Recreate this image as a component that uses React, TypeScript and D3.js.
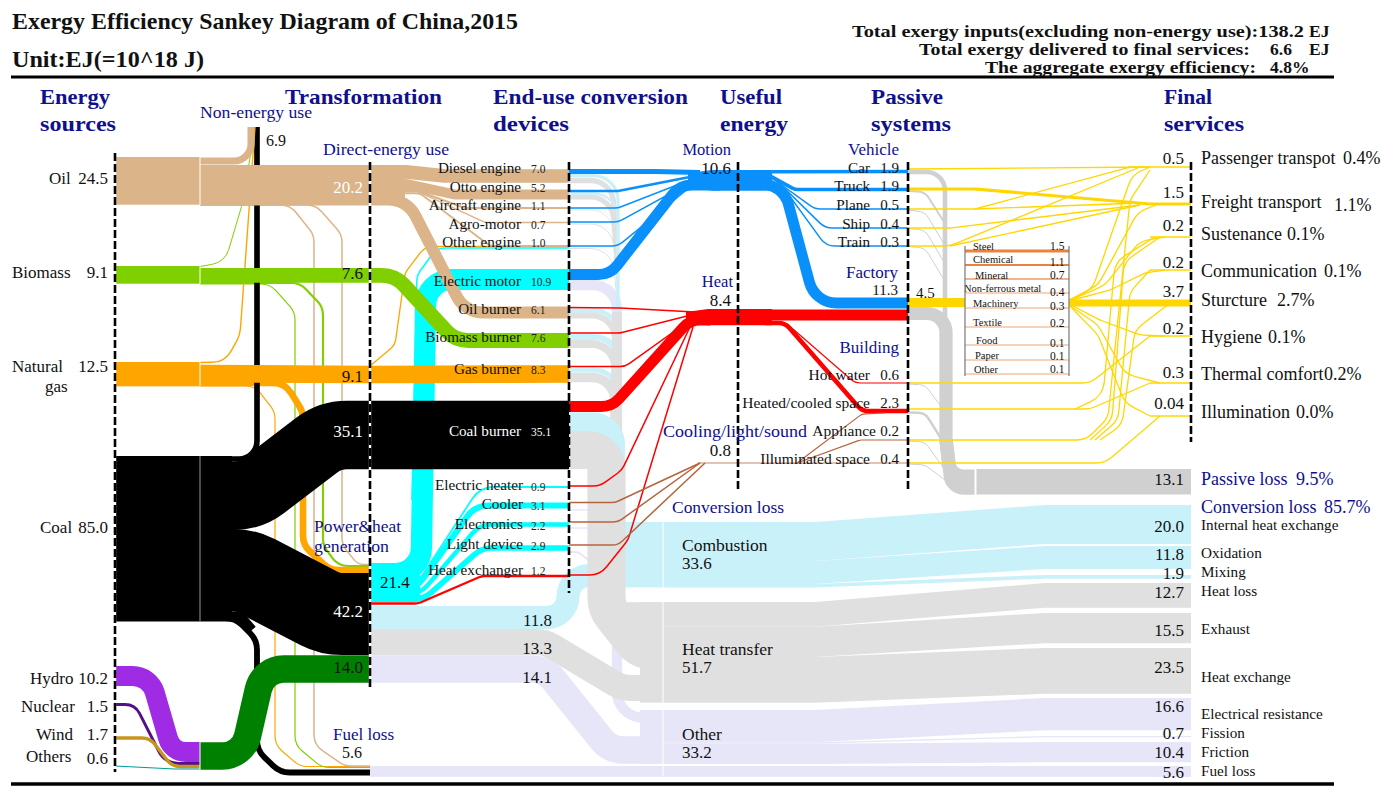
import React from 'react';
import * as d3 from 'd3';

type Pt = [number, number];

// ---- values read from the picture (EJ) ----
const sources = ['Oil', 'Biomass', 'Natural', 'Coal', 'Hydro', 'Nuclear', 'Wind', 'Others'];
const sourceValues = [24.5, 9.1, 12.5, 85.0, 10.2, 1.5, 1.7, 0.6];
const directValues = [20.2, 7.6, 9.1, 35.1];
const powerValues = [42.2, 14.0];
const powerOut = [21.4, 11.8, 13.3, 14.1];
const nonEnergy = [3.6, 0.2, 0.2, 2.9];
const fuelLoss = [0.5, 0.4, 0.4, 3.0];
const fuelCollar = 5;
const toPower = [0.6, 1.1, 3.4];

const devices = ['Diesel engine', 'Otto engine', 'Aircraft engine', 'Agro-motor', 'Other engine', 'Electric motor', 'Oil burner', 'Biomass burner', 'Gas burner', 'Coal burner', 'Electric heater', 'Cooler', 'Electronics', 'Light device', 'Heat exchanger'];
const deviceValues = [7.0, 5.2, 1.1, 0.7, 1.0, 10.9, 6.1, 7.6, 8.3, 35.1, 0.9, 3.1, 2.2, 2.9, 1.2];

const motionIn = [2.6, 1.3, 0.4, 0.3, 0.4, 5.6];
const heatIn = [0.6, 0.6, 0.7, 5.6, 0.4, 0.5];
const coolIn = [0.3, 0.2, 0.3];
const combustionIn = [1.7, 1.3, 0.3, 0.2, 0.2, 2.4, 3.0, 2.6, 9.9];
const transferIn = [2.7, 2.6, 0.4, 0.2, 0.4, 3.1, 4.0, 5.0, 19.6];
const transferEngines = 13;
const transferChannel = 5;
const otherIn = [5.3, 0.7, 0.7, 1.0];

const useful = [10.6, 8.4, 0.8];
const vehicles = ['Car', 'Truck', 'Plane', 'Ship', 'Train'];
const vehicleValues = [1.9, 1.9, 0.5, 0.4, 0.3];
const factoryValue = 11.3;
const factoryParts = [5.7, 5.6];
const buildings = ['Hot water', 'Heated/cooled space', 'Appliance', 'Illuminated space'];
const buildingValues = [0.6, 2.3, 0.2, 0.4];

const industries = ['Steel', 'Chemical', 'Mineral', 'Non-ferrous metal', 'Machinery', 'Textile', 'Food', 'Paper', 'Other'];
const industryValues = [1.5, 1.1, 0.7, 0.4, 0.3, 0.2, 0.1, 0.1, 0.1];
const factoryYellow = 4.5;

const services = ['Passenger transpot', 'Freight transport', 'Sustenance', 'Communication', 'Sturcture', 'Hygiene', 'Thermal comfort', 'Illumination'];
const serviceValues = [0.5, 1.5, 0.2, 0.2, 3.7, 0.2, 0.3, 0.04];
const servicePct = ['0.4%', '1.1%', '0.1%', '0.1%', '2.7%', '0.1%', '0.2%', '0.0%'];
const truckFreight = 1.6;
const thinFlow = 0.2;
const passiveLoss = 13.1;
const passiveIn = [0.3, 0.2, 0.3, 1.0, 2.4, 6.8, 7.0, 0.4, 1.3, 0.2, 0.2];

const lossGroups = ['Combustion', 'Heat transfer', 'Other'];
const lossGroupValues = [33.6, 51.7, 33.2];
const lossNames = [
  ['Internal heat exchange', 'Oxidation', 'Mixing'],
  ['Heat loss', 'Exhaust', 'Heat exchange'],
  ['Electrical resistance', 'Fission', 'Friction'],
];
const lossValues = [[20.0, 11.8, 1.9], [12.7, 15.5, 23.5], [16.6, 0.7, 10.4]];
const fuelLossTotal = 5.6;

// ---- scales and layout ----
const thick = d3.scaleLinear().domain([0, 85]).range([0, 165.5]);
const xCol = d3.scaleOrdinal<string, number>()
  .domain(['source', 'split', 'transform', 'device', 'useful', 'passive', 'final'])
  .range([115, 200, 370, 569, 738, 908, 1191]);
const xS = xCol('source'), xM = xCol('split'), xT = xCol('transform'), xD = xCol('device');
const xU = xCol('useful'), xP = xCol('passive'), xF = xCol('final');
const xLoss = 663;
const xTable = [965, 1069];

const sourceTop = [157, 266, 362, 456, 666, 703, 736, 765];
const lossTop = [[505, 546, 575], [583, 613, 648], [698, 736, 742]];
const lossBlockTop = [522, 602, 710];
const serviceY = [167, 204, 237, 270, 303, 336, 383, 416];
const tableLineY = [251, 265, 279, 293, 308, 327, 345, 360, 374];

const C = {
  tan: '#DCB48A', green: '#80CF00', orange: '#FFA500', black: '#000000', purple: '#A02BE4',
  indigo: '#52108A', gold: '#C8961E', teal: '#009B9B', dgreen: '#008000', cyan: '#00FFFF',
  blue: '#0A90FB', red: '#FF0000', brown: '#B5643C', yellow: '#FFD700', lcyan: '#C9F1FA',
  grey: '#E0E0E0', lav: '#E6E6F8', pgrey: '#D0D0D0', navy: '#10108C', table: '#E8833F',
};

// polyline with rounded corners, through d3.path
function rounded(pts: Pt[], r: number) {
  const p = d3.path();
  p.moveTo(pts[0][0], pts[0][1]);
  for (let i = 1; i < pts.length - 1; i++) {
    const [a, b, c] = [pts[i - 1], pts[i], pts[i + 1]];
    const u = [a[0] - b[0], a[1] - b[1]], v = [c[0] - b[0], c[1] - b[1]];
    const lu = Math.hypot(u[0], u[1]), lv = Math.hypot(v[0], v[1]);
    const ang = Math.acos(Math.max(-1, Math.min(1, (u[0] * v[0] + u[1] * v[1]) / (lu * lv))));
    const tanHalf = Math.tan(ang / 2);
    const re = Math.min(r, (Math.min(lu, lv) / 2) * tanHalf);
    if (re < 0.01 || ang > 3.13) p.lineTo(b[0], b[1]);
    else p.arcTo(b[0], b[1], c[0], c[1], re);
  }
  const e = pts[pts.length - 1];
  p.lineTo(e[0], e[1]);
  return p.toString();
}

interface Band { c: string; v: number; pts: Pt[]; r?: number; min?: number }

const b = (c: string, v: number, pts: Pt[], r = 20, min = 0): Band => ({c, v, pts, r, min});

// bands behind everything: losses from the devices
const lossBands: Band[] = [
  b(C.lav, otherIn[0], [[xD, 285], [617, 285], [617, 715], [xLoss, 720]], 30),
  b(C.lav, otherIn[1], [[xD, 510], [595, 510]]),
  b(C.lav, otherIn[2], [[xD, 528], [595, 528]]),
  b(C.lav, otherIn[3], [[xD, 552], [578, 552], [596, 566]], 10),
  // engines: grey peels off under the light strip
  b(C.grey, transferIn[0], [[xD, 180.5], [612, 180.5], [617, 250]], 40),
  b(C.grey, transferIn[1], [[xD, 197], [612, 197], [617, 262]], 40),
  b(C.grey, transferIn[2], [[xD, 210], [612, 210], [617, 272]], 40),
  b(C.grey, transferIn[3], [[xD, 224], [612, 224], [617, 284]], 40, 1),
  b(C.grey, transferIn[4], [[xD, 248.5], [612, 248.5], [617, 300]], 40, 1),
  b(C.lcyan, combustionIn[0], [[xD, 175.7], [618, 175.7], [618, 530]], 36),
  b(C.lcyan, combustionIn[1], [[xD, 193.5], [618, 193.5], [618, 530]], 36),
  b(C.lcyan, combustionIn[2], [[xD, 209], [618, 209], [618, 530]], 36),
  b(C.lcyan, combustionIn[3], [[xD, 223], [618, 223], [618, 530]], 36),
  b(C.lcyan, combustionIn[4], [[xD, 247.4], [618, 247.4], [618, 530]], 36),
  // burners
  b(C.lcyan, combustionIn[5], [[xD, 310.5], [619, 310.5], [619, 400]], 36),
  b(C.lcyan, combustionIn[6], [[xD, 337], [619, 337], [619, 420]], 36),
  b(C.lcyan, combustionIn[7], [[xD, 370], [619, 370], [619, 430]], 36),
  b(C.grey, transferIn[5], [[xD, 315.5], [615, 315.5], [615, 420]], 36),
  b(C.grey, transferIn[6], [[xD, 344], [615, 344], [615, 430]], 36),
  b(C.grey, transferIn[7], [[xD, 377.5], [615, 377.5], [615, 440]], 36),
  b(C.grey, transferChannel, [[617, 312], [617, 440]], 1),
  // coal
  b(C.lcyan, combustionIn[8], [[xD, 422], [615.5, 422], [615.5, 540]], 30),
  b(C.lcyan, powerOut[1], [[xT, 617.5], [568, 617.5], [568, 575.5], [xLoss, 575.5]], 24),
  b(C.grey, transferEngines, [[612, 560], [612, 615], [xLoss, 615]], 16),
  b(C.grey, transferIn[8], [[xD, 450], [606.5, 450], [606.5, 608], [640, 650], [xLoss, 650]], 30),
  b(C.lav, powerOut[3], [[xT, 669], [545, 669], [610, 750], [xLoss, 750]], 28),
  b(C.grey, powerOut[2], [[xT, 642], [545, 642], [622, 688], [xLoss, 688]], 30),
];

// fuel, thin feeds and the power sector
const sourceBands: Band[] = [
  b(C.orange, fuelLoss[2], [[xM, 386], [255, 386], [275, 412], [275, 745], [300, 766.5], [xT, 766.5]], 20, 1.2),
  b(C.green, fuelLoss[1], [[xM, 284], [270, 284], [295, 312], [295, 745], [322, 767.5], [xT, 767.5]], 20, 1.2),
  b(C.tan, fuelLoss[0], [[xM, 205], [290, 205], [314, 235], [314, 745], [345, 766], [xT, 766]], 20, 1.5),
  b(C.tan, toPower[0], [[xM, 205], [316, 205], [342, 235], [342, 545], [358, 564.5], [xT, 564.5]], 20, 1.5),
  b(C.green, toPower[1], [[xM, 283], [300, 283], [323, 307], [323, 545], [338, 566], [xT, 566]], 20),
  b(C.orange, toPower[2], [[xM, 383], [285, 383], [303, 412], [303, 545], [330, 570], [xT, 570]], 22),
  b(C.black, nonEnergy[3], [[xM, 459], [257, 459], [257, 127]], 18),
  b(C.green, nonEnergy[1], [[xM, 266.5], [225, 262], [242, 205], [253, 140]], 30, 1),
  b(C.orange, nonEnergy[2], [[xM, 362.5], [225, 362], [240, 335], [255, 127]], 30, 1.4),
  b(C.black, fuelLoss[3], [[xM, 618], [235, 618], [257, 640], [257, 750], [280, 772.5], [xT, 772.5]], 24),
  b(C.black, fuelCollar, [[xM, 616], [240, 616], [252, 630]], 10),
  b(C.tan, nonEnergy[0], [[xM, 161], [251, 161], [251, 127]], 20),
];

const powerBands: Band[] = [
  b(C.cyan, 0.8, [[412, 500], [417, 275], [437, 248], [xD, 248]], 16),
  b(C.cyan, deviceValues[5], [[xT, 573.5], [421, 573.5], [426, 279.5], [xD, 279.5]], 26),
  b(C.cyan, deviceValues[10], [[xT, 584.9], [416, 584.9], [480, 487], [xD, 487]], 26),
  b(C.cyan, deviceValues[11], [[xT, 588.8], [416, 588.8], [475, 505.5], [xD, 505.5]], 26),
  b(C.cyan, deviceValues[12], [[xT, 594], [420, 594], [480, 524.5], [xD, 524.5]], 26),
  b(C.cyan, deviceValues[13], [[xT, 598.9], [424, 598.9], [482, 548], [xD, 548]], 26),
  b(C.red, deviceValues[14], [[xT, 603.5], [418, 603.5], [482, 576], [xD, 576]], 16),
  b(C.orange, 0.5, [[xT, 366], [395, 345], [405, 273], [425, 246.5], [xD, 246.5]], 16, 1.3),
  b(C.tan, deviceValues[4], [[xM, 193.3], [420, 193.3], [490, 246], [xD, 246]], 12),
  b(C.tan, deviceValues[3], [[xM, 191.6], [418, 191.6], [485, 222.5], [xD, 222.5]], 14),
  b(C.tan, deviceValues[2], [[xM, 189.9], [415, 189.9], [465, 208], [xD, 208]], 14),
  b(C.tan, deviceValues[1], [[xM, 183.7], [405, 183.7], [455, 194.5], [xD, 194.5]], 18),
  b(C.tan, deviceValues[0], [[xM, 171.8], [405, 171.8], [445, 176], [xD, 176]], 18),
  b(C.tan, deviceValues[6], [[xM, 199.5], [407, 199.5], [465, 312.5], [xD, 312.5]], 30),
  b(C.green, directValues[1], [[xM, 275.3], [395, 275.3], [455, 340.5], [xD, 340.5]], 30),
  b(C.orange, directValues[2], [[xM, 373.5], [xT, 374.5], [xD, 374]], 5),
  b(C.black, powerValues[0], [[xM, 570], [245, 570], [330, 614], [xT, 614]], 50),
  b(C.black, directValues[3], [[xM, 496], [250, 496], [330, 435], [xD, 435]], 50),
  b(C.dgreen, powerValues[1], [[xM, 756], [243, 756], [263, 669], [xT, 669]], 26),
  b(C.purple, sourceValues[4], [[xS, 676], [150, 676], [172, 752], [xM, 752]], 26),
  b(C.indigo, sourceValues[5], [[xS, 704.5], [135, 704.5], [165, 763.5], [xM, 763.5]], 22),
  b(C.gold, sourceValues[6], [[xS, 738], [150, 738], [172, 766.5], [xM, 766.5]], 16),
  b(C.teal, sourceValues[7], [[xS, 766], [175, 769], [xM, 769]], 10, 1.2),
];

const usefulBands: Band[] = [
  b(C.blue, motionIn[0], [[xD, 171.5], [655, 171.5], [700, 172.5]], 10),
  b(C.blue, motionIn[1], [[xD, 191], [618, 191], [695, 176]], 14),
  b(C.blue, motionIn[2], [[xD, 208], [618, 208], [695, 178]], 18, 1.5),
  b(C.blue, motionIn[3], [[xD, 222], [618, 222], [695, 180]], 18, 1.5),
  b(C.blue, motionIn[4], [[xD, 246], [618, 246], [695, 183]], 18, 1.5),
  b(C.blue, motionIn[5], [[xD, 274.5], [610, 274.5], [680, 185], [720, 185]], 24),
  b(C.blue, vehicleValues[0], [[xU, 171.8], [xP, 171.5]]),
  b(C.blue, vehicleValues[1], [[770, 176], [795, 189.5], [xP, 189.5]], 12),
  b(C.blue, vehicleValues[2], [[772, 178], [815, 209], [xP, 209]], 18, 1.5),
  b(C.blue, vehicleValues[3], [[775, 179], [825, 228], [xP, 228]], 18, 1.5),
  b(C.blue, vehicleValues[4], [[778, 180], [826, 246], [xP, 246]], 18, 1.5),
  b(C.blue, factoryParts[1], [[xU, 184], [783, 184], [815, 303], [xP, 303]], 28),
  b(C.red, factoryParts[0], [[xU, 315], [xP, 315]]),
  b(C.red, heatIn[0], [[xD, 307.5], [620, 308], [695, 312]], 10, 1.5),
  b(C.red, heatIn[1], [[xD, 333], [620, 333], [695, 314]], 16, 1.5),
  b(C.red, heatIn[2], [[xD, 366.5], [625, 366.5], [695, 316.5]], 16, 1.5),
  b(C.red, heatIn[3], [[xD, 406.5], [612, 406.5], [690, 320], [710, 320]], 24),
  b(C.red, heatIn[4], [[xD, 486], [600, 486], [622, 470], [690, 327]], 20, 1.5),
  b(C.red, heatIn[5], [[xD, 575], [600, 575], [628, 540], [693, 327]], 22, 1.5),
  b(C.red, buildingValues[0], [[765, 322], [785, 322], [855, 383], [xP, 383]], 14),
  b(C.red, buildingValues[1], [[765, 323], [785, 323], [862, 411], [xP, 411]], 14),
  b(C.brown, coolIn[0], [[xD, 502.5], [615, 502.5], [700, 463]], 14, 1.5),
  b(C.brown, coolIn[1], [[xD, 522], [618, 522], [700, 463]], 14, 1.5),
  b(C.brown, coolIn[2], [[xD, 545], [618, 545], [705, 463]], 14, 1.5),
  b(C.brown, buildingValues[3], [[698, 463], [xP, 463]]),
  b(C.brown, buildingValues[2], [[797, 463], [860, 440], [xP, 440]], 10, 1.2),
  b(C.brown, buildingValues[2], [[797, 463], [862, 414], [885, 413]], 10, 1.2),
];

const passiveBands: Band[] = [
  b(C.pgrey, passiveIn[0], [[xP, 228.5], [925, 230], [944, 262]], 14, 1),
  b(C.pgrey, passiveIn[1], [[xP, 246.5], [925, 248], [944, 280]], 14, 1),
  b(C.pgrey, passiveIn[2], [[xP, 210], [925, 212], [944, 244]], 14, 1),
  b(C.pgrey, passiveIn[3], [[xP, 191], [925, 192], [944, 222]], 14),
  b(C.pgrey, passiveIn[4], [[xP, 172], [945, 172], [945, 330]], 22),
  b(C.pgrey, passiveIn[5], [[xP, 313.5], [946, 313.5], [946, 440], [950, 476], [976, 476]], 22),
  b(C.pgrey, passiveIn[6], [[946, 440], [952, 488], [976, 488]], 20),
  b(C.pgrey, passiveIn[7], [[xP, 384], [925, 385], [940, 405]], 12, 1),
  b(C.pgrey, passiveIn[8], [[xP, 412.5], [925, 413], [942, 440]], 12),
  b(C.pgrey, passiveIn[9], [[xP, 441], [925, 442], [945, 470]], 12, 1),
  b(C.pgrey, passiveIn[10], [[xP, 464], [925, 465], [945, 480]], 12, 1),
];

const yellowBands: Band[] = [
  b(C.yellow, thinFlow, [[xP, 169], [1150, 167], [xF, 167]], 10, 1.3),
  b(C.yellow, serviceValues[1], [[1150, 204], [xF, 204]]),
  b(C.yellow, truckFreight, [[xP, 189], [975, 189], [1150, 204]], 30),
  b(C.yellow, thinFlow, [[xP, 209], [975, 209], [1140, 203]], 30, 1.3),
  b(C.yellow, thinFlow, [[975, 209], [1130, 167], [1150, 167]], 30, 1.3),
  b(C.yellow, thinFlow, [[xP, 228], [950, 228], [1140, 205]], 30, 1.3),
  b(C.yellow, thinFlow, [[xP, 246], [950, 246], [1140, 167]], 30, 1.3),
  b(C.yellow, thinFlow, [[950, 246], [1140, 205]], 30, 1.3),
  b(C.yellow, thinFlow, [[1069, 300], [1092, 290], [1132, 175], [1150, 167]], 24, 1.3),
  b(C.yellow, thinFlow, [[1069, 300], [1098, 285], [1138, 212], [1156, 205]], 24, 1.3),
  b(C.yellow, thinFlow, [[1069, 301], [1105, 285], [1140, 241], [1165, 237]], 24, 1.3),
  b(C.yellow, thinFlow, [[1069, 301], [1110, 290], [1145, 273], [1165, 270]], 24, 1.3),
  b(C.yellow, thinFlow, [[1069, 304], [1100, 320], [1140, 335], [1165, 336]], 24, 1.3),
  b(C.yellow, thinFlow, [[1069, 305], [1098, 325], [1125, 374], [1160, 383]], 24, 1.3),
  b(C.yellow, thinFlow, [[1069, 305], [1098, 335], [1125, 403], [1150, 416]], 24, 1.3),
  b(C.yellow, thinFlow, [[xP, 383], [1090, 383], [1150, 336]], 24, 1.3),
  b(C.yellow, thinFlow, [[xP, 409], [1090, 409], [1150, 383]], 24, 1.3),
  b(C.yellow, thinFlow, [[1075, 409], [1103, 396], [1115, 262], [1155, 237]], 24, 1.3),
  b(C.yellow, thinFlow, [[xP, 440], [1086, 440], [1108, 418], [1130, 200], [1150, 170]], 22, 1.3),
  b(C.yellow, thinFlow, [[1090, 440], [1112, 420], [1124, 262], [1160, 237]], 22, 1.3),
  b(C.yellow, thinFlow, [[1095, 440], [1118, 420], [1130, 292], [1150, 270]], 22, 1.3),
  b(C.yellow, thinFlow, [[1100, 440], [1122, 425], [1135, 330], [1170, 303]], 22, 1.3),
  b(C.yellow, thinFlow, [[xP, 463], [1105, 463], [1160, 416]], 24, 1.3),
  ...[2, 3, 5, 6, 7].map(i => b(C.yellow, thinFlow, [[1150, serviceY[i]], [xF, serviceY[i]]], 1, 1.3)),
  b(C.yellow, factoryYellow, [[xP, 302.5], [xTable[0], 302.5]]),
  b(C.yellow, serviceValues[4], [[xTable[1], 303], [xF, 303]]),
];

const lossColors = [C.lcyan, C.grey, C.lav];
const taper = d3.area<{x: number; y0: number; y1: number}>().x(d => d.x).y0(d => d.y0).y1(d => d.y1);

function lossRibbons() {
  const out: {key: string; d: string; c: string}[] = [];
  lossValues.forEach((row, g) => {
    let cum = lossBlockTop[g];
    row.forEach((v, i) => {
      const h = thick(v);
      const topR = lossTop[g][i];
      out.push({
        key: `${g}-${i}`, c: lossColors[g],
        d: taper([
          {x: xLoss, y0: cum, y1: cum + h},
          {x: 815, y0: cum, y1: cum + h},
          {x: 1045, y0: topR, y1: topR + h},
          {x: xF, y0: topR, y1: topR + h},
        ])!,
      });
      cum += h;
    });
  });
  return out;
}

const serif = '"Liberation Serif", "DejaVu Serif", serif';

interface TextProps {x: number; y: number; s: string; size?: number; fill?: string; bold?: boolean; anchor?: string; w?: number}

const T: React.FC<TextProps> = ({x, y, s, size = 16, fill = '#111', bold, anchor = 'start', w}) => (
  <text x={x} y={y} fontSize={size} fill={fill} fontWeight={bold ? 'bold' : 'normal'} textAnchor={anchor}
        textLength={w} lengthAdjust={w ? 'spacingAndGlyphs' : undefined}>{s}</text>
);

const Bands: React.FC<{list: Band[]}> = ({list}) => (
  <g fill="none" strokeLinejoin="round">
    {list.map((d, i) => (
      <path key={i} d={rounded(d.pts, d.r ?? 20)} stroke={d.c} strokeWidth={Math.max(thick(d.v), d.min ?? 0)}/>
    ))}
  </g>
);

const dashLines: [number, number, number][] = [
  [xS, 153, 772], [xT, 162, 688], [xD, 162, 593], [xU, 162, 489], [xP, 162, 489], [xF, 162, 442],
];

const sourceLabelX = [49, 12, 12, 40, 30, 21, 36, 26];
const sourceLabelY = [184, 278, 372, 533, 684, 712, 740, 762];
const deviceY = [173, 192, 210, 229, 247, 286, 314, 342, 374, 436, 490, 509, 529, 549, 575];
const vehicleY = [173, 191, 210, 229, 247];
const buildingY = [380, 408, 436, 464];
const serviceLabelY = [164, 208, 240, 277, 306, 343, 380, 418];
const serviceValueY = [164, 198, 231, 268, 297, 334, 378, 409];
const servicePctX = [1343, 1334, 1287, 1324, 1277, 1268, 1324, 1296];
const tableNameX = [973, 973, 975, 964, 973, 973, 976, 975, 974];
const tableNameY = [250, 263, 279, 292, 307, 326, 344, 359, 373];
const tableValY = [250, 266, 279, 296, 310, 327, 347, 360, 373];
const lossLabelY = [[530, 558, 577], [596, 634, 682], [719, 738, 757]];
const lossValueY = [[532, 560, 579], [598, 636, 673], [712, 739, 758]];
const lossGroupY = [551, 655, 740];
const headers: [string, number, number, number][] = [
  ['Energy', 40, 104, 70], ['sources', 40, 131, 76], ['Transformation', 285, 104, 157], ['End-use conversion', 493, 104, 195],
  ['devices', 493, 131, 76], ['Useful', 720, 104, 62], ['energy', 720, 131, 68], ['Passive', 871, 104, 72],
  ['systems', 871, 131, 80], ['Final', 1164, 104, 48], ['services', 1164, 131, 80],
];

export default function App() {
  const ribbons = lossRibbons();
  const head = (x0: number, x1: number, top: number, h: number, x2: number) => taper([
    {x: x0, y0: top + 3, y1: top + h - 4},
    {x: x1, y0: top, y1: top + h},
    {x: x2, y0: top, y1: top + h},
  ])!;
  return (
    <svg width={1385} height={798} viewBox="0 0 1385 798" fontFamily={serif}
         style={{position: 'absolute', left: 0, top: 0, background: '#fff'}}>
      {/* loss blocks */}
      <rect x={625} y={lossBlockTop[0]} width={xLoss - 625} height={thick(lossGroupValues[0])} fill={C.lcyan}/>
      <rect x={640} y={lossBlockTop[1]} width={xLoss - 640} height={thick(lossGroupValues[1])} fill={C.grey}/>
      <rect x={640} y={lossBlockTop[2]} width={xLoss - 640} height={thick(lossGroupValues[2]) - thick(fuelLossTotal)} fill={C.lav}/>
      <Bands list={lossBands}/>
      {ribbons.map(r => <path key={r.key} d={r.d} fill={r.c}/>)}
      <rect x={xT} y={766} width={xF - xT} height={thick(fuelLossTotal)} fill={C.lav}/>
      <line x1={xLoss} x2={xLoss} y1={522} y2={776} stroke="#fff" strokeWidth={1}/>

      <Bands list={passiveBands}/>
      <rect x={976} y={469} width={xF - 976} height={thick(passiveLoss)} fill={C.pgrey}/>

      <Bands list={sourceBands}/>
      <Bands list={powerBands}/>

      {/* source blocks */}
      {[C.tan, C.green, C.orange, C.black].map((c, i) => (
        <rect key={i} x={xS} y={sourceTop[i]} width={xM - xS} height={thick(sourceValues[i])} fill={c}/>
      ))}
      <rect x={xM} y={sourceTop[3]} width={32} height={thick(sourceValues[3])} fill={C.black}/>
      <rect x={xM} y={165} width={205} height={thick(directValues[0])} fill={C.tan}/>
      <rect x={xT} y={563} width={50} height={39} fill={C.cyan}/>
      <path d={head(688, 712, 170, thick(useful[0]), 772)} fill={C.blue}/>
      <path d={head(686, 708, 309, thick(useful[1]), 772)} fill={C.red}/>
      <Bands list={usefulBands}/>
      <Bands list={yellowBands}/>

      {/* separators */}
      {[[157, 205], [266, 284], [362, 386]].map(([a, c], i) => (
        <line key={i} x1={xM} x2={xM} y1={a} y2={c} stroke="#fff" strokeWidth={1}/>
      ))}
      <line x1={xM} x2={xM} y1={456} y2={621} stroke="#9a9a9a" strokeWidth={1}/>
      <line x1={xM} x2={xM} y1={742} y2={770} stroke="#fff" strokeWidth={1}/>
      <line x1={975.5} x2={975.5} y1={465} y2={498} stroke="#fff" strokeWidth={2}/>

      {/* industry table */}
      <rect x={xTable[0]} y={247} width={xTable[1] - xTable[0]} height={128} fill="#fff"/>
      {industries.map((n, i) => (
        <g key={n}>
          <line x1={xTable[0]} x2={xTable[1]} y1={tableLineY[i]} y2={tableLineY[i]} stroke={C.table}
                strokeWidth={Math.max(thick(industryValues[i]), 0.9)} opacity={i < 2 ? 1 : 0.8}/>
          <T x={tableNameX[i]} y={tableNameY[i]} s={n} size={10.5}/>
          <T x={1050} y={tableValY[i]} s={industryValues[i].toFixed(1)} size={11.5}/>
        </g>
      ))}
      <line x1={xTable[0]} x2={xTable[0]} y1={246} y2={376} stroke="#777" strokeWidth={1.2}/>
      <line x1={xTable[1]} x2={xTable[1]} y1={246} y2={376} stroke="#777" strokeWidth={1.2}/>

      {/* dashed columns */}
      {dashLines.map(([x, a, c]) => (
        <g key={x}>
          <line x1={x} x2={x} y1={a} y2={c} stroke="#fff" strokeWidth={2.4} opacity={x === xT || x === xS ? 1 : 0}/>
          <line x1={x} x2={x} y1={a} y2={c} stroke="#000" strokeWidth={2.6} strokeDasharray="8 3"/>
        </g>
      ))}

      {/* rules */}
      <line x1={11} x2={1334} y1={77} y2={77} stroke="#000" strokeWidth={3}/>
      <line x1={11} x2={1334} y1={784} y2={784} stroke="#000" strokeWidth={3.5}/>

      {/* header */}
      <T x={12} y={29} s="Exergy Efficiency Sankey Diagram of China,2015" size={23} bold w={506}/>
      <T x={12} y={67} s="Unit:EJ(=10^18 J)" size={23} bold w={192}/>
      <T x={852} y={37} s="Total exergy inputs(excluding non-energy use):138.2" size={17.5} bold w={452}/>
      <T x={1309} y={37} s="EJ" size={17.5} bold/>
      <T x={919} y={55} s="Total exergy delivered to final services:" size={17.5} bold w={331}/>
      <T x={1270} y={55} s="6.6" size={17.5} bold/>
      <T x={1309} y={55} s="EJ" size={17.5} bold/>
      <T x={985} y={73} s="The aggregate exergy efficiency:" size={17.5} bold w={271}/>
      <T x={1270} y={73} s="4.8%" size={17.5} bold/>

      {headers.map(([s, x, y, w]) => (
        <T key={s} x={x} y={y} s={s} size={22} bold fill={C.navy} w={w}/>
      ))}

      <T x={200} y={118} s="Non-energy use" size={16} fill={C.navy} w={112}/>
      <T x={266} y={146} s={(nonEnergy[0] + nonEnergy[1] + nonEnergy[2] + nonEnergy[3]).toFixed(1)} size={16}/>
      <T x={323} y={155} s="Direct-energy use" size={16} fill={C.navy} w={126}/>

      {/* sources */}
      {sources.map((n, i) => (
        <g key={n}>
          <T x={sourceLabelX[i]} y={sourceLabelY[i]} s={n} size={17}/>
          <T x={108} y={sourceLabelY[i] + (i === 7 ? 2 : 0)} s={sourceValues[i].toFixed(1)} size={17} anchor="end"/>
        </g>
      ))}
      <T x={45} y={392} s="gas" size={17}/>

      {/* band values */}
      <T x={363} y={193} s={directValues[0].toFixed(1)} size={17} fill="#fff" anchor="end"/>
      <T x={363} y={279} s={directValues[1].toFixed(1)} size={17} anchor="end"/>
      <T x={363} y={382} s={directValues[2].toFixed(1)} size={17} anchor="end"/>
      <T x={363} y={437} s={directValues[3].toFixed(1)} size={17} fill="#fff" anchor="end"/>
      <T x={363} y={617} s={powerValues[0].toFixed(1)} size={17} fill="#fff" anchor="end"/>
      <T x={363} y={673} s={powerValues[1].toFixed(1)} size={17} anchor="end"/>
      <T x={380} y={588} s={powerOut[0].toFixed(1)} size={17}/>
      {[626, 654, 683].map((y, i) => (
        <T key={y} x={552} y={y} s={powerOut[i + 1].toFixed(1)} size={17} anchor="end"/>
      ))}
      <T x={314} y={532} s="Power&heat" size={16} fill={C.navy} w={87}/>
      <T x={314} y={552} s="generation" size={16} fill={C.navy} w={75}/>
      <T x={333} y={740} s="Fuel loss" size={16} fill={C.navy} w={61}/>
      <T x={342} y={758} s={fuelLossTotal.toFixed(1)} size={16}/>

      {/* devices */}
      {devices.map((n, i) => (
        <g key={n}>
          <T x={i > 9 ? 523 : 521} y={deviceY[i]} s={n} size={15.2} anchor="end" fill={i === 9 ? '#fff' : '#111'}/>
          <T x={531} y={deviceY[i] + (i > 9 && i < 14 ? 1 : 0)} s={deviceValues[i].toFixed(1)} size={11.5} fill={i === 9 ? '#fff' : '#222'}/>
        </g>
      ))}

      {/* useful energy */}
      <T x={731} y={155} s="Motion" size={16.5} fill={C.navy} anchor="end"/>
      <T x={731} y={174} s={useful[0].toFixed(1)} size={17} anchor="end"/>
      <T x={733} y={287} s="Heat" size={16.5} fill={C.navy} anchor="end"/>
      <T x={731} y={306} s={useful[1].toFixed(1)} size={17} anchor="end"/>
      <T x={663} y={437} s="Cooling/light/sound" size={16} fill={C.navy} w={144}/>
      <T x={731} y={456} s={useful[2].toFixed(1)} size={17} anchor="end"/>

      {/* passive systems */}
      <T x={899} y={155} s="Vehicle" size={17} fill={C.navy} anchor="end"/>
      {vehicles.map((n, i) => (
        <g key={n}>
          <T x={870} y={vehicleY[i]} s={n} size={15.2} anchor="end"/>
          <T x={899} y={vehicleY[i]} s={vehicleValues[i].toFixed(1)} size={15} anchor="end"/>
        </g>
      ))}
      <T x={898} y={278} s="Factory" size={17} fill={C.navy} anchor="end"/>
      <T x={898} y={295} s={factoryValue.toFixed(1)} size={15} anchor="end"/>
      <T x={899} y={353} s="Building" size={17} fill={C.navy} anchor="end"/>
      {buildings.map((n, i) => (
        <g key={n}>
          <T x={i === 2 ? 876 : 870} y={buildingY[i]} s={n} size={15.5} anchor="end"/>
          <T x={899} y={buildingY[i]} s={buildingValues[i].toFixed(1)} size={15} anchor="end"/>
        </g>
      ))}
      <T x={916} y={298} s={factoryYellow.toFixed(1)} size={15}/>

      {/* final services */}
      {services.map((n, i) => (
        <g key={n}>
          <T x={1184} y={serviceValueY[i]} s={serviceValues[i] < 0.1 ? '0.04' : serviceValues[i].toFixed(1)} size={17} anchor="end"/>
          <T x={1201} y={serviceLabelY[i]} s={n} size={18}/>
          <T x={servicePctX[i]} y={serviceLabelY[i] + (i === 1 ? 3 : 0)} s={servicePct[i]} size={18}/>
        </g>
      ))}
      <T x={1184} y={485} s={passiveLoss.toFixed(1)} size={17} anchor="end"/>
      <T x={1201} y={485} s="Passive loss" size={18} fill={C.navy}/>
      <T x={1296} y={485} s="9.5%" size={18} fill={C.navy}/>
      <T x={1201} y={513} s="Conversion loss" size={18} fill={C.navy}/>
      <T x={1324} y={513} s="85.7%" size={18} fill={C.navy}/>
      <T x={672} y={513} s="Conversion loss" size={16} fill={C.navy} w={112}/>

      {lossGroups.map((n, i) => (
        <g key={n}>
          <T x={682} y={lossGroupY[i]} s={n} size={17.5}/>
          <T x={682} y={lossGroupY[i] + 18} s={lossGroupValues[i].toFixed(1)} size={17}/>
        </g>
      ))}
      {lossNames.map((row, g) => row.map((n, i) => (
        <g key={n}>
          <T x={1201} y={lossLabelY[g][i]} s={n} size={15.2}/>
          <T x={1184} y={lossValueY[g][i]} s={lossValues[g][i].toFixed(1)} size={17} anchor="end"/>
        </g>
      )))}
      <T x={1201} y={776} s="Fuel loss" size={15.2}/>
      <T x={1184} y={778} s={fuelLossTotal.toFixed(1)} size={17} anchor="end"/>
    </svg>
  );
}
